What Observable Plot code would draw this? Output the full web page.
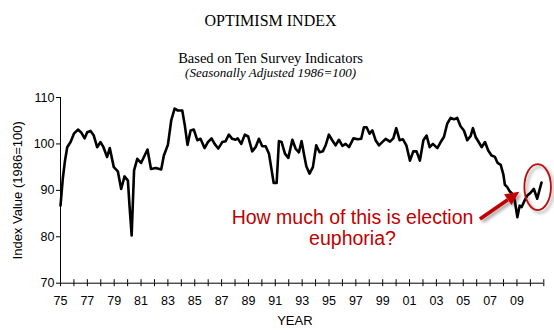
<!DOCTYPE html>
<html><head><meta charset="utf-8">
<script src="https://cdn.jsdelivr.net/npm/d3@7"></script>
<script src="https://cdn.jsdelivr.net/npm/@observablehq/plot@0.6"></script>
<style>body{margin:0;background:#fff}</style>
</head><body><div id="chart"></div>
<script>
// Optimism index (Seasonally Adjusted 1986=100)
const years = [1975.00,1975.17,1975.32,1975.50,1975.75,1976.00,1976.30,1976.56,1976.80,1976.99,
1977.24,1977.48,1977.73,1977.98,1978.20,1978.47,1978.67,1978.97,1979.27,1979.52,1979.77,
1980.02,1980.14,1980.30,1980.48,1980.72,1981.00,1981.48,1981.74,1982.10,1982.50,1982.70,
1983.00,1983.25,1983.50,1983.74,1984.07,1984.26,1984.46,1984.69,1984.93,1985.19,1985.43,
1985.73,1985.98,1986.25,1986.48,1986.75,1987.05,1987.30,1987.54,1987.79,1988.04,1988.20,
1988.46,1988.73,1988.98,1989.28,1989.53,1989.78,1990.03,1990.28,1990.53,1990.73,1990.88,
1991.10,1991.27,1991.47,1991.72,1991.97,1992.27,1992.51,1992.76,1992.96,1993.13,1993.31,
1993.55,1993.80,1994.05,1994.30,1994.54,1994.75,1994.99,1995.24,1995.49,1995.74,1996.00,
1996.24,1996.49,1996.82,1997.15,1997.40,1997.60,1997.80,1998.02,1998.23,1998.47,1998.72,
1998.97,1999.22,1999.54,1999.79,2000.01,2000.26,2000.51,2000.76,2001.03,2001.28,2001.52,
2001.77,2002.03,2002.27,2002.50,2002.74,2003.07,2003.32,2003.56,2003.81,2004.06,2004.31,
2004.55,2004.80,2005.05,2005.30,2005.55,2005.72,2005.92,2006.17,2006.37,2006.62,2006.86,
2007.11,2007.36,2007.56,2007.79,2007.99,2008.10,2008.28,2008.46,2008.70,2008.85,2009.03,
2009.20,2009.35,2009.52,2009.77,2010.02,2010.26,2010.51,2010.83];
const values = [86.7,92.5,96.1,99.3,100.4,102.2,103.1,102.4,101.2,102.5,
102.8,101.8,99.3,100.4,99.3,97.2,99.1,95.0,94.1,90.3,93.0,
92.1,86.7,80.3,94.3,96.8,95.9,98.8,94.6,94.8,94.5,97.5,
99.8,105.1,107.6,107.2,107.2,104.0,99.8,102.9,103.1,100.8,101.1,
99.1,100.4,101.2,100.0,99.0,100.4,100.6,102.0,101.1,100.9,101.2,
100.0,102.0,101.6,98.4,99.3,101.1,99.5,99.5,97.9,94.3,91.6,
91.6,100.6,100.4,97.9,97.0,100.9,99.0,98.2,100.6,97.9,95.2,
93.6,95.0,99.7,98.2,98.4,99.7,102.0,100.8,99.7,100.9,99.6,
100.0,99.3,101.2,101.0,101.1,103.6,103.6,102.2,102.9,100.8,99.7,
100.4,101.1,100.5,101.2,103.4,100.8,101.0,99.7,96.4,98.4,98.4,
96.4,100.8,101.8,99.3,100.0,99.1,100.4,101.5,104.4,105.6,105.3,
105.6,103.8,102.9,100.8,101.7,103.4,101.5,100.3,99.3,100.4,98.6,
97.5,97.2,95.9,95.5,93.4,91.2,90.7,89.8,89.1,87.6,84.2,
86.7,86.4,87.5,88.9,89.5,90.3,88.2,91.7];

const yTicks = [70, 80, 90, 100, 110];
const xTickYears = [1975,1976,1977,1978,1979,1980,1981,1982,1983,1984,1985,1986,1987,1988,1989,
1990,1991,1992,1993,1994,1995,1996,1997,1998,1999,2000,2001,2002,2003,2004,2005,2006,2007,2008,
2009,2010,2011];
const xTickLabels = ["75","","77","","79","","81","","83","","85","","87","","89",
"","91","","93","","95","","97","","99","","01","","03","","05","","07","","09","",""];

const titleText = "OPTIMISM INDEX";
const subtitleText = "Based on Ten Survey Indicators";
const noteText = "(Seasonally Adjusted 1986=100)";
const yLabel = "Index Value (1986=100)";
const xLabel = "YEAR";

// annotation (data units)
const annotationLines = [
  {text: "How much of this is election", year: 1996.75, value: 82.85},
  {text: "euphoria?", year: 1996.75, value: 78.3}
];
const arrowFrom = {year: 2006.28, value: 83.7};
const arrowTo = {year: 2009.21, value: 89.6};
const ellipseCenter = {year: 2010.58, value: 90.6};
const ellipseRadius = {years: 0.99, values: 4.95};

const data = years.map((y, i) => ({year: y, value: values[i]}));
const red = "#c00000";

const chart = Plot.plot({
  width: 554, height: 333,
  marginLeft: 60, marginRight: 10.7, marginTop: 97, marginBottom: 50.3,
  style: {fontFamily: "'Liberation Sans', Arial, sans-serif", color: "#000", background: "#fff"},
  x: {domain: [1975, 2011]},
  y: {domain: [70, 110]},
  marks: [
    Plot.axisY({ticks: yTicks, tickSize: 4, tickPadding: 2, fontSize: 12.5,
      label: yLabel, labelAnchor: "center", labelOffset: 48, labelArrow: "none"}),
    Plot.axisX({ticks: xTickYears, tickSize: 3.5, tickPadding: 9, fontSize: 12.5, label: null,
      tickFormat: d => xTickLabels[xTickYears.indexOf(d)]}),
    Plot.ruleX(xTickYears, {y1: 70, y2: 70.75, stroke: "#000"}),
    Plot.ruleX([1975], {stroke: "#000"}),
    Plot.ruleY([70], {stroke: "#000"}),
    Plot.line(data, {x: "year", y: "value", stroke: "#000", strokeWidth: 2.6, strokeLinejoin: "round"}),
    Plot.text(annotationLines, {x: "year", y: "value", text: "text", fill: red, fontSize: 19.5, lineAnchor: "bottom"}),
    Plot.text([titleText], {frameAnchor: "top", dx: -31.6, dy: -72, lineAnchor: "bottom",
      fontFamily: "'Liberation Serif', 'Times New Roman', serif", fontSize: 16}),
    Plot.text([subtitleText], {frameAnchor: "top", dx: -31.6, dy: -35, lineAnchor: "bottom",
      fontFamily: "'Liberation Serif', 'Times New Roman', serif", fontSize: 14.5}),
    Plot.text([noteText], {frameAnchor: "top", dx: -31.6, dy: -21, lineAnchor: "bottom",
      fontFamily: "'Liberation Serif', 'Times New Roman', serif", fontSize: 13, fontStyle: "italic"}),
    Plot.text([xLabel], {frameAnchor: "bottom", dx: -7.3, dy: 41.3, lineAnchor: "bottom", fontSize: 13})
  ]
});

// Arrow and ellipse drawn through the chart's own scales
const sx = chart.scale("x"), sy = chart.scale("y");
const svg = d3.select(chart);
svg.selectAll("[aria-label='y-axis label'] text").style("font-size", "13px");
const defs = svg.append("defs");
const f = defs.append("filter").attr("id", "shadow").attr("x", "-50%").attr("y", "-50%").attr("width", "200%").attr("height", "200%");
f.append("feDropShadow").attr("dx", 2.5).attr("dy", 2.5).attr("stdDeviation", 1.5)
  .attr("flood-color", "#000").attr("flood-opacity", 0.35);

const x1 = sx.apply(arrowFrom.year), y1 = sy.apply(arrowFrom.value);
const x2 = sx.apply(arrowTo.year), y2 = sy.apply(arrowTo.value);
const ang = Math.atan2(y2 - y1, x2 - x1);
const headLen = 14, headHalf = 6.5;
const bx = x2 - headLen * Math.cos(ang), by = y2 - headLen * Math.sin(ang);
const g = svg.append("g").attr("filter", "url(#shadow)");
g.append("line").attr("x1", x1).attr("y1", y1).attr("x2", bx).attr("y2", by)
  .attr("stroke", red).attr("stroke-width", 3.6);
g.append("polygon").attr("fill", red).attr("points", [
  [x2, y2],
  [bx + headHalf * Math.sin(ang), by - headHalf * Math.cos(ang)],
  [bx - headHalf * Math.sin(ang), by + headHalf * Math.cos(ang)]
].map(p => p.join(",")).join(" "));

const cx = sx.apply(ellipseCenter.year), cy = sy.apply(ellipseCenter.value);
const rx = sx.apply(ellipseCenter.year + ellipseRadius.years) - cx;
const ry = cy - sy.apply(ellipseCenter.value + ellipseRadius.values);
svg.append("ellipse").attr("filter", "url(#shadow)").attr("cx", cx).attr("cy", cy).attr("rx", rx).attr("ry", ry)
  .attr("fill", "none").attr("stroke", "#b80f0f").attr("stroke-width", 1.8);

document.getElementById("chart").appendChild(chart);
</script>
</body></html>
